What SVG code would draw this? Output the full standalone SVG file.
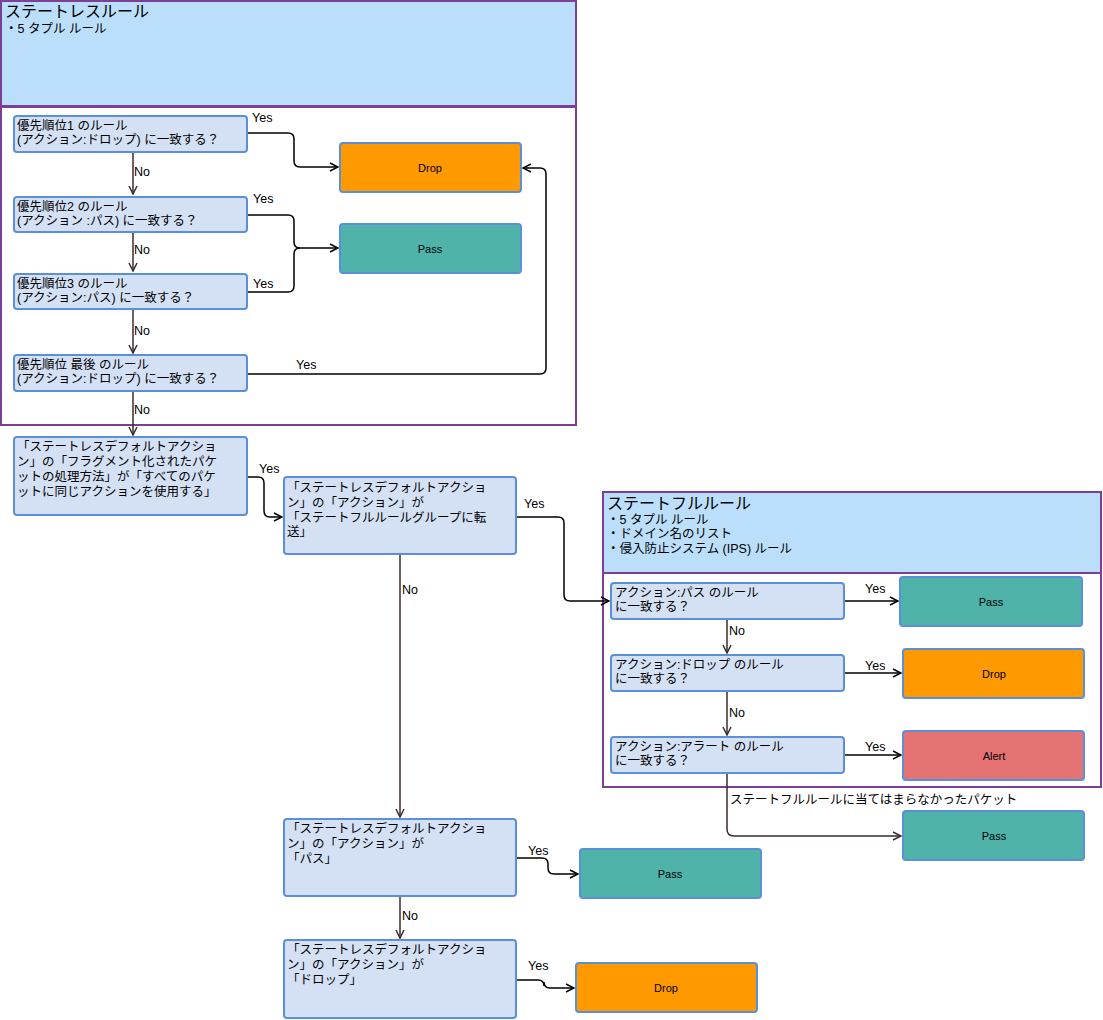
<svg xmlns="http://www.w3.org/2000/svg" width="1103" height="1020" viewBox="0 0 1103 1020">
<style>
text{font-family:"Liberation Sans","Noto Sans CJK JP",sans-serif;font-size:12.5px;fill:#000}
.grp{fill:#fff;stroke:#7b3f98;stroke-width:2}
.hdr{fill:#bbdefa;stroke:#7b3f98;stroke-width:2}
.q{fill:#d4e1f5;stroke:#5b8fd9;stroke-width:2}
.drop{fill:#ff9900;stroke:#5b8fd9;stroke-width:2}
.pass{fill:#4fb3aa;stroke:#5b8fd9;stroke-width:2}
.alert{fill:#e57373;stroke:#5b8fd9;stroke-width:2}
.lbl{font-size:11px;text-anchor:middle}
.no{fill:none;stroke:#3d2b2b;stroke-width:1.5}
.yes{fill:none;stroke:#000;stroke-width:1.5}
.t{font-size:12.5px}
.h{font-size:16px}
</style>
<defs>
<marker id="a" viewBox="0 0 10 10" refX="9" refY="5" markerWidth="10" markerHeight="10" markerUnits="userSpaceOnUse" orient="auto"><path d="M1,1 L9,5 L1,9" fill="none" stroke="context-stroke" stroke-width="1.5"/></marker>
</defs>
<g id="stateless">
<rect class="hdr" x="1" y="1" width="575" height="105"/>
<text class="h" x="5" y="17">ステートレスルール</text>
<text x="5" y="33">・5 タプル ルール</text>
<rect class="grp" x="1" y="107" width="575" height="318"/>
</g>
<g id="stateful">
<rect class="hdr" x="603" y="492" width="498" height="81"/>
<text class="h" x="607" y="509">ステートフルルール</text>
<text x="607" y="524">・5 タプル ルール</text>
<text x="607" y="538">・ドメイン名のリスト</text>
<text x="607" y="553">・侵入防止システム (IPS) ルール</text>
<rect class="grp" x="603" y="573" width="498" height="214"/>
</g>
<g id="connectors">
<path class="no" d="M133,152 V194" marker-end="url(#a)"/>
<path class="no" d="M133,232 V271" marker-end="url(#a)"/>
<path class="no" d="M133,309 V353" marker-end="url(#a)"/>
<path class="no" d="M133,391 V435" marker-end="url(#a)"/>
<path class="yes" d="M247,133 H288 Q294,133 294,139 V161 Q294,167 300,167 H338" marker-end="url(#a)"/>
<path class="yes" d="M247,215 H288 Q294,215 294,221 V242 Q294,248 300,248 H338" marker-end="url(#a)"/>
<path class="yes" d="M247,292 H288 Q294,292 294,286 V254 Q294,248 300,248"/>
<path class="yes" d="M247,374 H540 Q546,374 546,368 V174 Q546,168 540,168 H523" marker-end="url(#a)"/>
<path class="yes" d="M247,477 H258 Q264,477 264,483 V511 Q264,517 270,517 H282" marker-end="url(#a)"/>
<path class="yes" d="M516,517 H558 Q564,517 564,523 V595 Q564,601 570,601 H609" marker-end="url(#a)"/>
<path class="no" d="M400,554 V817" marker-end="url(#a)"/>
<path class="no" d="M400,896 V938" marker-end="url(#a)"/>
<path class="yes" d="M516,858 H542 Q548,858 548,864 V868 Q548,874 554,874 H578" marker-end="url(#a)"/>
<path class="yes" d="M516,980 H538 Q544,980 544,986 V982 Q544,988 550,988 H574" marker-end="url(#a)"/>
<path class="yes" d="M844,601 H898" marker-end="url(#a)"/>
<path class="yes" d="M844,673 H901" marker-end="url(#a)"/>
<path class="yes" d="M844,755 H901" marker-end="url(#a)"/>
<path class="no" d="M727,619 V653" marker-end="url(#a)"/>
<path class="no" d="M727,691 V735" marker-end="url(#a)"/>
<path class="no" d="M727,773 V829 Q727,836 734,836 H901" marker-end="url(#a)"/>
<text x="252" y="122">Yes</text>
<text x="253" y="203">Yes</text>
<text x="253" y="288">Yes</text>
<text x="296" y="369">Yes</text>
<text x="134" y="176">No</text>
<text x="134" y="254">No</text>
<text x="134" y="335">No</text>
<text x="134" y="414">No</text>
<text x="259" y="473">Yes</text>
<text x="524" y="508">Yes</text>
<text x="402" y="594">No</text>
<text x="402" y="920">No</text>
<text x="528" y="855">Yes</text>
<text x="528" y="970">Yes</text>
<text x="865" y="593">Yes</text>
<text x="865" y="670">Yes</text>
<text x="865" y="751">Yes</text>
<text x="729" y="635">No</text>
<text x="729" y="717">No</text>
<text x="730" y="804">ステートフルルールに当てはまらなかったパケット</text>
</g>
<g id="r1"><rect class="q" x="14" y="116" width="233" height="36" rx="3"/><text x="17" y="130">優先順位1 のルール</text><text x="17" y="144">(アクション:ドロップ) に一致する？</text></g>
<g id="r2"><rect class="q" x="14" y="197" width="233" height="35" rx="3"/><text x="17" y="211">優先順位2 のルール</text><text x="17" y="225">(アクション :パス) に一致する？</text></g>
<g id="r3"><rect class="q" x="14" y="274" width="233" height="35" rx="3"/><text x="17" y="288">優先順位3 のルール</text><text x="17" y="302">(アクション:パス) に一致する？</text></g>
<g id="r4"><rect class="q" x="14" y="355" width="233" height="36" rx="3"/><text x="17" y="369">優先順位 最後 のルール</text><text x="17" y="383">(アクション:ドロップ) に一致する？</text></g>
<g id="drop1"><rect class="drop" x="340" y="143" width="181" height="49" rx="3"/><text class="lbl" x="430" y="172">Drop</text></g>
<g id="pass1"><rect class="pass" x="340" y="224" width="181" height="49" rx="3"/><text class="lbl" x="430" y="253">Pass</text></g>
<g id="d1"><rect class="q" x="14" y="437" width="233" height="78" rx="3"/>
<text x="17" y="451">「ステートレスデフォルトアクショ</text><text x="17" y="466">ン」の「フラグメント化されたパケ</text><text x="17" y="481">ットの処理方法」が「すべてのパケ</text><text x="17" y="496">ットに同じアクションを使用する」</text></g>
<g id="d2"><rect class="q" x="284" y="477" width="232" height="77" rx="3"/>
<text x="287" y="492">「ステートレスデフォルトアクショ</text><text x="287" y="507">ン」の「アクション」が</text><text x="287" y="522">「ステートフルルールグループに転</text><text x="287" y="536">送」</text></g>
<g id="s1"><rect class="q" x="611" y="583" width="233" height="36" rx="3"/><text x="615" y="597">アクション:パス のルール</text><text x="615" y="611">に一致する？</text></g>
<g id="s2"><rect class="q" x="611" y="655" width="233" height="36" rx="3"/><text x="615" y="669">アクション:ドロップ のルール</text><text x="615" y="683">に一致する？</text></g>
<g id="s3"><rect class="q" x="611" y="737" width="233" height="36" rx="3"/><text x="615" y="751">アクション:アラート のルール</text><text x="615" y="765">に一致する？</text></g>
<g id="pass2"><rect class="pass" x="900" y="577" width="182" height="49" rx="3"/><text class="lbl" x="991" y="606">Pass</text></g>
<g id="drop2"><rect class="drop" x="903" y="649" width="181" height="49" rx="3"/><text class="lbl" x="994" y="678">Drop</text></g>
<g id="alert"><rect class="alert" x="903" y="731" width="181" height="49" rx="3"/><text class="lbl" x="994" y="760">Alert</text></g>
<g id="pass3"><rect class="pass" x="903" y="811" width="181" height="49" rx="3"/><text class="lbl" x="994" y="840">Pass</text></g>
<g id="d3"><rect class="q" x="284" y="819" width="232" height="77" rx="3"/>
<text x="287" y="833">「ステートレスデフォルトアクショ</text><text x="287" y="848">ン」の「アクション」が</text><text x="287" y="863">「パス」</text></g>
<g id="d4"><rect class="q" x="284" y="940" width="232" height="78" rx="3"/>
<text x="287" y="954">「ステートレスデフォルトアクショ</text><text x="287" y="969">ン」の「アクション」が</text><text x="287" y="984">「ドロップ」</text></g>
<g id="pass4"><rect class="pass" x="580" y="849" width="181" height="49" rx="3"/><text class="lbl" x="670" y="878">Pass</text></g>
<g id="drop3"><rect class="drop" x="576" y="963" width="181" height="49" rx="3"/><text class="lbl" x="666" y="992">Drop</text></g>
</svg>
